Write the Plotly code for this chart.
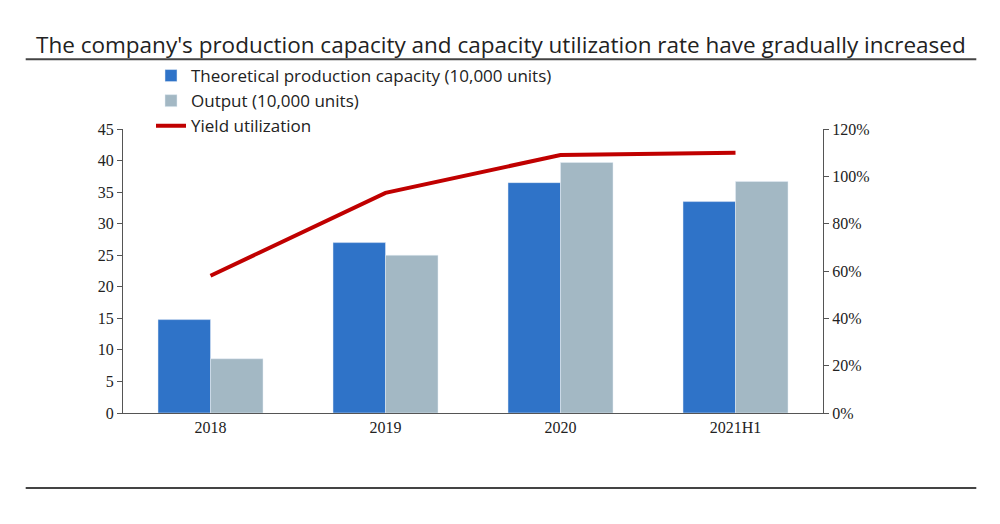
import plotly.graph_objects as go

years = ["2018", "2019", "2020", "2021H1"]
capacity = [14.8, 27.0, 36.5, 33.5]
output = [8.6, 25.0, 39.7, 36.7]
utilization = [58, 93, 109, 110]

fig = go.Figure()
fig.add_trace(go.Bar(x=years, y=capacity, name="Theoretical production capacity (10,000 units)",
                     marker_color="#2F73C8"))
fig.add_trace(go.Bar(x=years, y=output, name="Output (10,000 units)", marker_color="#A3B8C4"))
fig.add_trace(go.Scatter(x=years, y=utilization, name="Yield utilization", yaxis="y2",
                         mode="lines", line=dict(color="#C00000", width=4)))

serif = dict(family="Liberation Serif", size=16, color="#222")
fig.update_layout(
    width=1000, height=524, plot_bgcolor="white", paper_bgcolor="white",
    margin=dict(l=115, r=185, t=121, b=119),
    barmode="group", bargap=0.4, bargroupgap=0,
    title=dict(text="The company's production capacity and capacity utilization rate have gradually increased",
               x=0.028, xanchor="left", y=0.93, yanchor="middle",
               font=dict(family="Open Sans", size=22.5, color="#222")),
    xaxis=dict(showline=True, linecolor="#555", ticks="", tickfont=serif),
    yaxis=dict(range=[0, 45], dtick=5, showgrid=False, showline=True, linecolor="#555",
               ticks="outside", ticklen=5, tickcolor="#555", tickfont=serif),
    yaxis2=dict(range=[0, 120], dtick=20, ticksuffix="%", overlaying="y", side="right",
                showgrid=False, showline=True, linecolor="#555", ticks="outside",
                ticklen=5, tickcolor="#555", tickfont=serif),
    legend=dict(x=0.04, y=1.25, xanchor="left", yanchor="top", bgcolor="rgba(0,0,0,0)",
                font=dict(family="Open Sans", size=17, color="#222"), tracegroupgap=6),
    shapes=[
        dict(type="line", xref="paper", yref="paper", x0=-0.139, x1=1.219, y0=1.246, y1=1.246,
             line=dict(color="#444", width=2)),
        dict(type="line", xref="paper", yref="paper", x0=-0.139, x1=1.219, y0=-0.264, y1=-0.264,
             line=dict(color="#444", width=2)),
    ],
)
fig.write_html("out.html")
